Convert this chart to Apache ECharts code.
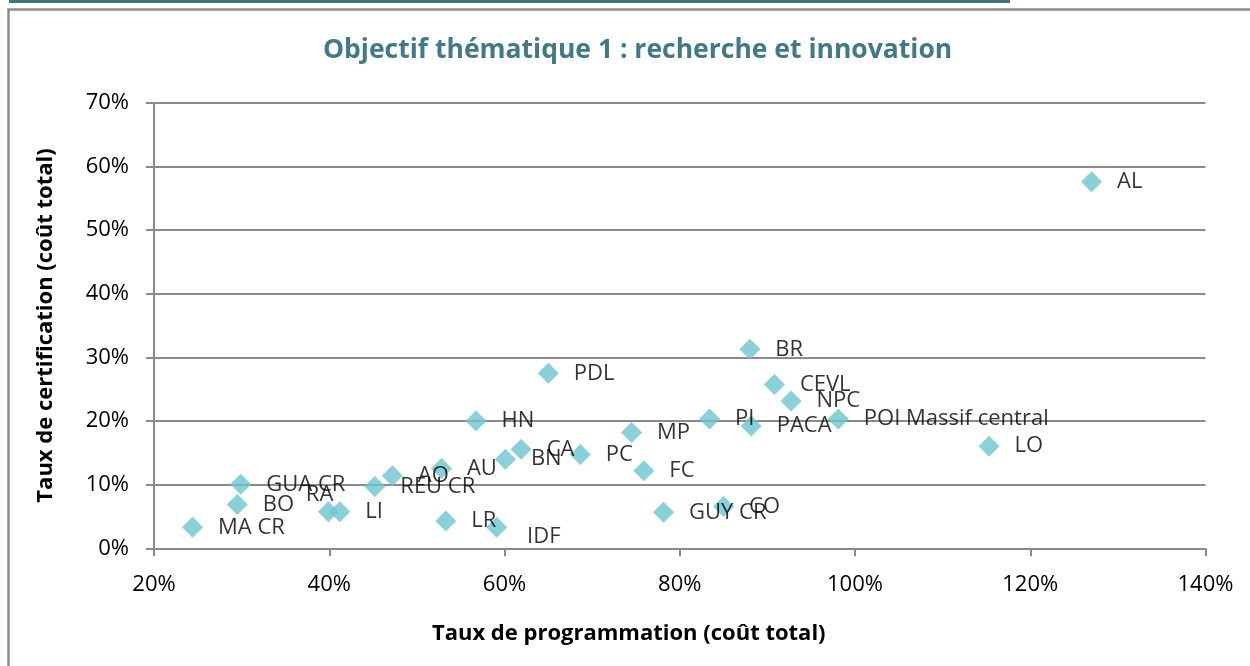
<!DOCTYPE html>
<html>
<head>
<meta charset="utf-8">
<script src="https://cdn.jsdelivr.net/npm/echarts@6/dist/echarts.min.js"></script>
<style>
html,body{margin:0;padding:0;background:#fff;}
#chart{width:1250px;height:666px;}
</style>
</head>
<body>
<div id="chart"></div>
<script>
// Regions
const regions = ["MA CR","BO","GUA CR","RA","LI","REU CR","AO","AU","LR","HN","IDF","BN","CA","PDL","PC","MP","FC","GUY CR","PI","CO","BR","PACA","CEVL","NPC","POI Massif central","LO","AL"];
// Taux de programmation (coût total), %
const programmation = [24.4,29.5,29.9,39.9,41.2,45.2,47.2,52.8,53.3,56.75,59.1,60.1,61.9,65.0,68.65,74.5,75.9,78.15,83.4,85.0,88.0,88.15,90.8,92.7,98.1,115.3,127.0];
// Taux de certification (coût total), %
const certification = [3.3,6.9,10.05,5.75,5.75,9.7,11.4,12.55,4.3,20.0,3.3,14.0,15.55,27.5,14.75,18.2,12.2,5.65,20.3,6.55,31.25,19.2,25.75,23.15,20.3,16.05,57.6];
// Axis tick values
const xTicks = [20,40,60,80,100,120,140];
const yTicks = [0,10,20,30,40,50,60,70];

// label placement tweaks (style only)
const labelTweaks = { "RA": [-48,-17], "IDF": [5,9] };

const FONT = "Open Sans";
const points = regions.map((n,i) => {
  const p = { name: n, value: [programmation[i], certification[i]] };
  if (labelTweaks[n]) p.label = { offset: labelTweaks[n] };
  return p;
});

const chart = echarts.init(document.getElementById('chart'), null, {renderer:'canvas'});
chart.setOption({
  backgroundColor: '#fff',
  animation: false,
  title: {
    text: 'Objectif thématique 1 : recherche et innovation',
    left: 318, top: 32,
    textStyle: { fontFamily: FONT, fontWeight: 'bold', fontSize: 26.5, color: '#41798a' }
  },
  grid: { left: 154, right: 44.5, top: 102.7, bottom: 117.7, containLabel: false },
  xAxis: {
    type: 'value', min: xTicks[0], max: xTicks[xTicks.length-1], interval: 20,
    name: 'Taux de programmation (coût total)', nameLocation: 'middle', nameGap: 74,
    nameTextStyle: { fontFamily: FONT, fontWeight: 'bold', fontSize: 22, color: '#000', padding: [0, 102, 0, 0] },
    axisLine: { show: true, lineStyle: { color: '#8a8a8a', width: 2 } },
    axisTick: { show: true, inside: false, length: 8, lineStyle: { color: '#8a8a8a', width: 2 } },
    axisLabel: { formatter: '{value}%', fontFamily: FONT, fontSize: 22, color: '#000', margin: 25 },
    splitLine: { show: false }
  },
  yAxis: {
    type: 'value', min: yTicks[0], max: yTicks[yTicks.length-1], interval: 10,
    name: 'Taux de certification (coût total)', nameLocation: 'middle', nameGap: 97, nameRotate: 90,
    nameTextStyle: { fontFamily: FONT, fontWeight: 'bold', fontSize: 22, color: '#000' },
    axisLine: { show: true, lineStyle: { color: '#8a8a8a', width: 2 } },
    axisTick: { show: true, inside: false, length: 8, lineStyle: { color: '#8a8a8a', width: 2 } },
    axisLabel: { formatter: '{value}%', fontFamily: FONT, fontSize: 22, color: '#000', margin: 25 },
    splitLine: { show: true, lineStyle: { color: '#8a8a8a', width: 2 } }
  },
  series: [{
    type: 'scatter',
    symbol: 'diamond',
    symbolSize: 21,
    itemStyle: { color: '#6cc4d0' },
    label: {
      show: true, position: 'right', distance: 15,
      formatter: p => p.name,
      fontFamily: FONT, fontSize: 22, color: '#000'
    },
    data: points
  }],
  graphic: [
    { type: 'rect', shape: { x: 9, y: 0, width: 1001, height: 3 }, style: { fill: '#3f7585' }, silent: true },
    { type: 'polyline', shape: { points: [[8.5, 666], [8.5, 9.5], [1250, 9.5]] }, style: { stroke: '#8c8c8c', lineWidth: 2.5, fill: null }, silent: true }
  ]
});
</script>
</body>
</html>
